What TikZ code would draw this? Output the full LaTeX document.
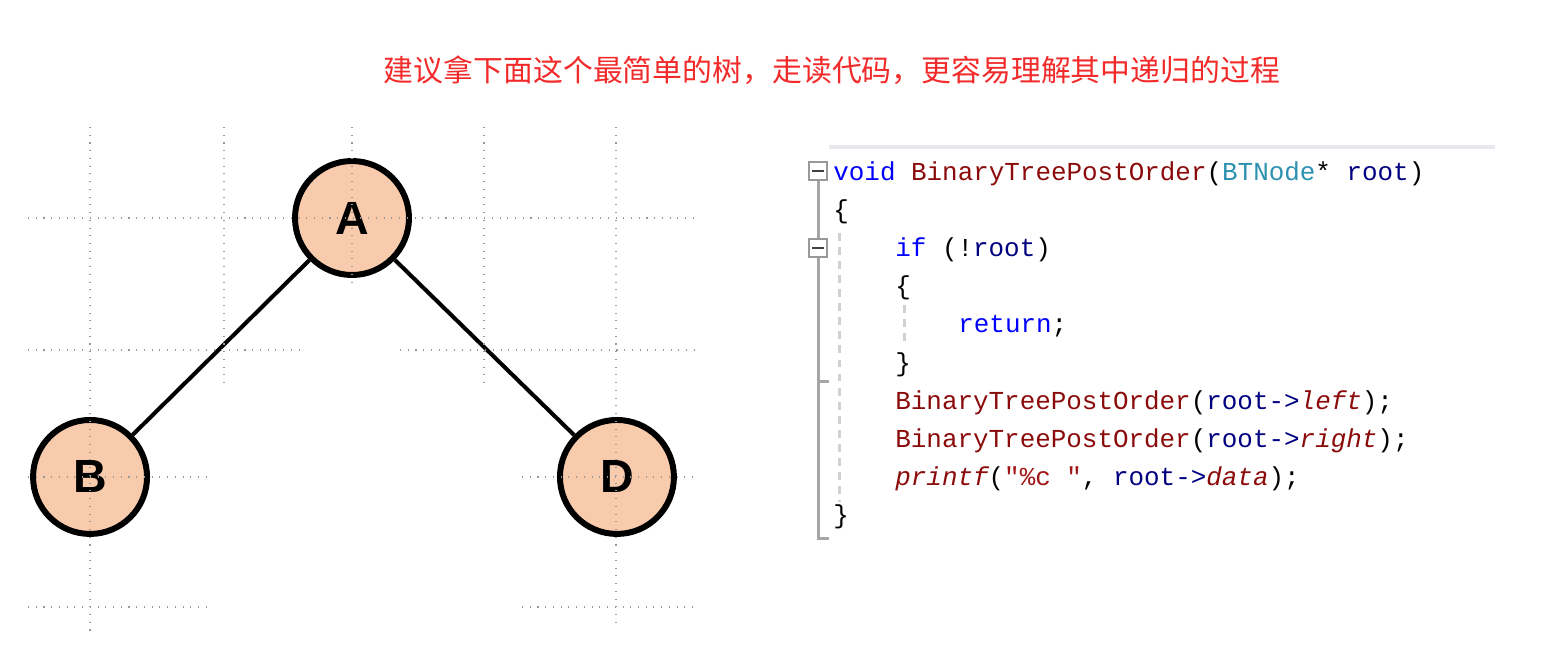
\documentclass[tikz,border=0pt]{standalone}
\usepackage{fontspec}
\usepackage{tikz}
\usetikzlibrary{positioning}

\setmainfont{Liberation Sans}
\newfontfamily\codefont{Liberation Mono}
\newfontfamily\cjkfont{Noto Sans CJK SC}

\definecolor{nodefill}{HTML}{F8CBAD}
\definecolor{titlered}{HTML}{F22A2A}
\definecolor{kwblue}{HTML}{0000FF}
\definecolor{fnred}{HTML}{8B0A0A}
\definecolor{tyteal}{HTML}{2B91AF}
\definecolor{varnavy}{HTML}{000080}
\definecolor{strred}{HTML}{A31515}
\definecolor{panelgray}{HTML}{E8E8EE}

\newcommand{\ckw}[1]{\textcolor{kwblue}{#1}}
\newcommand{\cfn}[1]{\textcolor{fnred}{#1}}
\newcommand{\cty}[1]{\textcolor{tyteal}{#1}}
\newcommand{\cvar}[1]{\textcolor{varnavy}{#1}}
\newcommand{\cmem}[1]{\textcolor{fnred}{\itshape #1}}
\newcommand{\cstr}[1]{\textcolor{strred}{#1}}

\begin{document}
\begin{tikzpicture}[x=0.02cm, y=-0.02cm, auto]
        % Styles
        \tikzstyle{treenode} = [circle, draw, line width=3.4pt, fill=nodefill,
            minimum size=2.28cm, inner sep=0pt, font=\fontsize{26.5}{30}\selectfont\bfseries]
        \tikzstyle{codeline} = [anchor=base west, inner sep=0pt,
            font=\codefont\fontsize{14.75}{18}\selectfont]
        \tikzstyle{title} = [inner sep=0pt, text=titlered, font=\cjkfont\fontsize{17}{20}\selectfont]
        \tikzstyle{gridline} = [draw=black!40, line width=0.6pt, dash pattern=on 0.6pt off 3.8pt]
        \tikzstyle{line} = [draw, line width=2.3pt]
        \tikzstyle{foldbox} = [rectangle, draw=black!40, line width=1.1pt, fill=white,
            minimum size=0.36cm, inner sep=0pt]
        \tikzstyle{foldbar} = [draw=black!35, line width=1.7pt]
        \tikzstyle{guide} = [draw=black!18, line width=1.7pt, dash pattern=on 4.5pt off 3.5pt]

        \useasboundingbox (0,0) rectangle (1554,670);

        % Title
        \node [title] (title) at (832,70) {建议拿下面这个最简单的树，走读代码，更容易理解其中递归的过程};

        % Tree
        \node [treenode] (A) at (352,218) {A};
        \node [treenode, on grid, below left=5.18cm and 5.24cm of A] (B) {B};
        \node [treenode, on grid, below right=5.18cm and 5.3cm of A] (D) {D};

        \path [line] (A) -- (B);
        \path [line] (A) -- (D);

        % Grid dots
        \draw [gridline] (28,218) -- (698,218);
        \draw [gridline] (28,350) -- (304,350);
        \draw [gridline] (400,350) -- (698,350);
        \draw [gridline] (28,477) -- (212,477);
        \draw [gridline] (522,477) -- (698,477);
        \draw [gridline] (28,607) -- (212,607);
        \draw [gridline] (522,607) -- (698,607);
        \draw [gridline] (90,127) -- (90,634);
        \draw [gridline] (224,127) -- (224,389);
        \draw [gridline] (352,127) -- (352,282);
        \draw [gridline] (484,127) -- (484,389);
        \draw [gridline] (616,127) -- (616,624);

        % Code panel
        \draw [draw=panelgray, line width=2.8pt] (829,147) -- (1495,147);
        \node [foldbox] (fold1) at (818,171) {};
        \node [foldbox] (fold2) at (818,248) {};
        \draw [black!75, line width=1.2pt] ([xshift=-0.12cm]fold1.center) -- ([xshift=0.12cm]fold1.center);
        \draw [black!75, line width=1.2pt] ([xshift=-0.12cm]fold2.center) -- ([xshift=0.12cm]fold2.center);
        \draw [foldbar] (fold1.south) -- (fold2.north);
        \draw [foldbar] (fold2.south) |- (829,381);
        \draw [foldbar] (818,381) |- (829,538);
        \draw [guide] (839,233) -- (839,502);
        \draw [guide] (904,305) -- (904,346);

        \node [codeline] (code1) at (833,180) {\ckw{void} \cfn{BinaryTreePostOrder}(\cty{BTNode}* \cvar{root})};
        \node [codeline] (code2) at (833,218) {\{};
        \node [codeline] (code3) at (895,256) {\ckw{if} (!\cvar{root})};
        \node [codeline] (code4) at (895,294) {\{};
        \node [codeline] (code5) at (958,332) {\ckw{return};};
        \node [codeline] (code6) at (895,371) {\}};
        \node [codeline] (code7) at (895,409) {\cfn{BinaryTreePostOrder}(\cvar{root->}\cmem{left});};
        \node [codeline] (code8) at (895,447) {\cfn{BinaryTreePostOrder}(\cvar{root->}\cmem{right});};
        \node [codeline] (code9) at (895,485) {\cmem{printf}(\cstr{"\%c "}, \cvar{root->}\cmem{data});};
        \node [codeline] (code10) at (833,523) {\}};
\end{tikzpicture}
\end{document}
